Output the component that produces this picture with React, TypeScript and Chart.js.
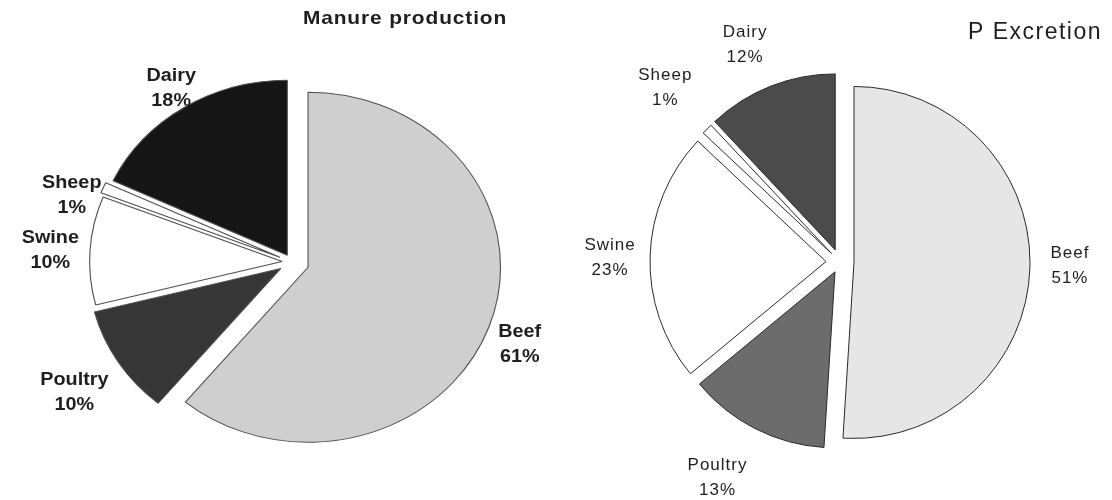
import React, { useEffect, useRef } from 'react';
import { Chart, registerables } from 'chart.js';

Chart.register(...registerables);

// ---- data ----
const categories = ['Beef', 'Poultry', 'Swine', 'Sheep', 'Dairy'];
const manureValues = [61, 10, 10, 1, 18];
const pExcretionValues = [51, 13, 23, 1, 12];
const chartTitles = ['Manure production', 'P Excretion'];

// ---- styles ----
const leftColors = ['#cfcfcf', '#363636', '#ffffff', '#ffffff', '#151515'];
const rightColors = ['#e6e6e6', '#6c6c6c', '#ffffff', '#ffffff', '#4b4b4b'];
const leftExplode = [15.5, 12, 9, 12, 8];
const rightExplode = [14, 11, 14, 12, 13];
const leftLabelGap = [48, 62, 45, 36, 30];
const rightLabelGap = [54, 72, 54, 71, 61];
const leftLabelShift = [2, -1, -0.5, -5, 0];
const rightLabelShift = [-0.8, 2.6, -0.8, 0, -2];

const piePlugin = {
  id: 'piePlugin',
  beforeDatasetsDraw(chart: any, _args: any, opts: any) {
    const meta = chart.getDatasetMeta(0);
    const ca = chart.chartArea;
    const cx = (ca.left + ca.right) / 2;
    const cy = (ca.top + ca.bottom) / 2;
    meta.data.forEach((arc: any, i: number) => {
      const mid = (arc.startAngle + arc.endAngle) / 2;
      const d = opts.explode[i] || 0;
      arc.x = cx + Math.cos(mid) * d;
      arc.y = cy + Math.sin(mid) * d;
    });
    const ctx = chart.ctx;
    ctx.save();
    ctx.translate(cx, cy);
    ctx.scale(opts.stretch, 1);
    ctx.translate(-cx, -cy);
  },
  afterDatasetsDraw(chart: any, _args: any, opts: any) {
    const ctx = chart.ctx;
    ctx.restore();
    const meta = chart.getDatasetMeta(0);
    const ca = chart.chartArea;
    const cx = (ca.left + ca.right) / 2;
    const cy = (ca.top + ca.bottom) / 2;
    const labels = chart.data.labels;
    const values = chart.data.datasets[0].data;
    ctx.save();
    ctx.fillStyle = '#1e1e1e';
    ctx.textAlign = 'center';
    ctx.textBaseline = 'middle';
    ctx.font = opts.labelFont;
    if ('letterSpacing' in ctx) (ctx as any).letterSpacing = opts.labelSpacing;
    meta.data.forEach((arc: any, i: number) => {
      const mid = (arc.startAngle + arc.endAngle) / 2 + (opts.labelShift[i] * Math.PI) / 180;
      const d = arc.outerRadius + opts.labelGap[i];
      const px = cx + opts.stretch * Math.cos(mid) * d;
      const py = cy + Math.sin(mid) * d;
      ctx.save();
      ctx.translate(px, py);
      ctx.scale(opts.stretch, 1);
      ctx.fillText(labels[i], 0, -opts.lineHeight / 2);
      ctx.fillText(values[i] + '%', 0, opts.lineHeight / 2);
      ctx.restore();
    });
    // title
    ctx.font = opts.titleFont;
    if ('letterSpacing' in ctx) (ctx as any).letterSpacing = opts.titleSpacing;
    ctx.textAlign = opts.titleAlign;
    ctx.save();
    ctx.translate(opts.titleX, opts.titleY);
    ctx.scale(opts.stretch, 1);
    ctx.fillText(opts.title, 0, 0);
    ctx.restore();
    ctx.restore();
  },
};

function makeConfig(values: number[], colors: string[], border: string, radius: number, padding: any, pluginOpts: any) {
  return {
    type: 'pie' as const,
    data: {
      labels: categories,
      datasets: [
        {
          data: values,
          backgroundColor: colors,
          borderColor: border,
          borderWidth: 1,
          radius,
        },
      ],
    },
    options: {
      animation: false as const,
      responsive: false,
      events: [],
      radius,
      layout: { padding },
      plugins: {
        legend: { display: false },
        tooltip: { enabled: false },
        title: { display: false },
        piePlugin: pluginOpts,
      },
    },
    plugins: [piePlugin],
  };
}

export default function App() {
  const leftRef = useRef<HTMLCanvasElement>(null);
  const rightRef = useRef<HTMLCanvasElement>(null);

  useEffect(() => {
    const left = new Chart(
      leftRef.current as HTMLCanvasElement,
      makeConfig(manureValues, leftColors, '#505050', 175, { left: 28, right: 0, top: 24, bottom: 0 }, {
        explode: leftExplode,
        labelGap: leftLabelGap,
        labelShift: leftLabelShift,
        stretch: 1.1,
        labelFont: 'bold 18px "Liberation Sans", Arial, sans-serif',
        labelSpacing: '0px',
        lineHeight: 25,
        title: chartTitles[0],
        titleFont: 'bold 19px "Liberation Sans", Arial, sans-serif',
        titleSpacing: '0.8px',
        titleAlign: 'center',
        titleX: 405,
        titleY: 19,
      }) as any
    );
    const right = new Chart(
      rightRef.current as HTMLCanvasElement,
      makeConfig(pExcretionValues, rightColors, '#2a2a2a', 176, { left: 12, right: 0, top: 24, bottom: 0 }, {
        explode: rightExplode,
        labelGap: rightLabelGap,
        labelShift: rightLabelShift,
        stretch: 1,
        labelFont: '17px "Liberation Sans", Arial, sans-serif',
        labelSpacing: '1px',
        lineHeight: 25,
        title: chartTitles[1],
        titleFont: '23px "Liberation Sans", Arial, sans-serif',
        titleSpacing: '1.5px',
        titleAlign: 'right',
        titleX: 546,
        titleY: 33,
      }) as any
    );
    return () => {
      left.destroy();
      right.destroy();
    };
  }, []);

  return (
    <div style={{ position: 'absolute', left: 0, top: 0, width: 1112, height: 500, background: '#ffffff' }}>
      <canvas ref={leftRef} width={556} height={500} style={{ position: 'absolute', left: 0, top: 0, width: 556, height: 500 }} />
      <canvas ref={rightRef} width={556} height={500} style={{ position: 'absolute', left: 556, top: 0, width: 556, height: 500 }} />
    </div>
  );
}
